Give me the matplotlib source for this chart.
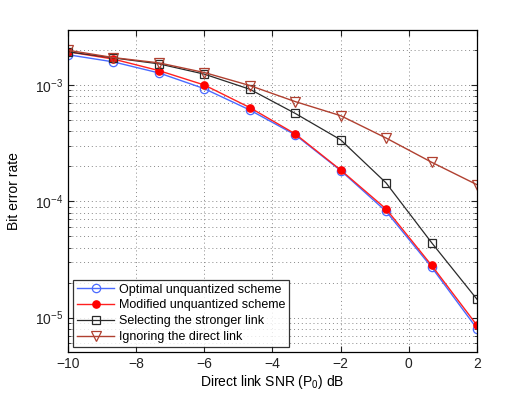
import matplotlib
matplotlib.use("Agg")
import matplotlib.pyplot as plt
import numpy as np
from matplotlib.ticker import LogLocator, NullFormatter

plt.rcParams['font.family'] = ['Liberation Sans', 'DejaVu Sans']
plt.rcParams['mathtext.fontset'] = 'custom'
plt.rcParams['mathtext.rm'] = 'Liberation Sans'
plt.rcParams['mathtext.it'] = 'Liberation Sans:italic'

snr = [-10, -8.667, -7.333, -6, -4.667, -3.333, -2, -0.667, 0.667, 2]
optimal = [1.82e-3, 1.58e-3, 1.27e-3, 9.3e-4, 6.1e-4, 3.73e-4, 1.84e-4, 8.2e-5, 2.72e-5, 8.05e-6]
modified = [1.93e-3, 1.67e-3, 1.33e-3, 1.0e-3, 6.4e-4, 3.8e-4, 1.86e-4, 8.6e-5, 2.82e-5, 8.6e-6]
selecting = [1.93e-3, 1.71e-3, 1.52e-3, 1.24e-3, 9.2e-4, 5.7e-4, 3.38e-4, 1.44e-4, 4.42e-5, 1.44e-5]
ignoring = [1.99e-3, 1.72e-3, 1.55e-3, 1.28e-3, 9.9e-4, 7.2e-4, 5.45e-4, 3.5e-4, 2.17e-4, 1.39e-4]
labels = ["Optimal unquantized scheme", "Modified unquantized scheme",
          "Selecting the stronger link", "Ignoring the direct link"]
xticks = [-10, -8, -6, -4, -2, 0, 2]

fig = plt.figure(figsize=(5.26, 3.96), dpi=100)
ax = fig.add_axes([0.1293, 0.1119, 0.7775, 0.8136])

ax.plot(snr, optimal, color='#4a6aff', lw=1.0, marker='o', ms=6, mfc='none', mec='#4a6aff', mew=0.9, label=labels[0])
ax.plot(snr, modified, color='#ff2020', lw=1.0, marker='o', ms=5.2, mfc='#ff0000', mec='#ff0000', label=labels[1])
ax.plot(snr, selecting, color='#2a2a2a', lw=0.9, marker='s', ms=5.2, mfc='none', mec='#2a2a2a', mew=0.9, label=labels[2])
ax.plot(snr, ignoring, color='#b04030', lw=1.0, marker='v', ms=7, mfc='none', mec='#b04030', mew=0.9, label=labels[3])

ax.set_yscale('log')
ax.set_xlim(-10, 2)
ax.set_ylim(5.1e-6, 3.0e-3)
ax.set_xticks(xticks)
ax.set_xticklabels([f"\u2212{abs(t)}" if t < 0 else str(t) for t in xticks])
ax.yaxis.set_major_locator(LogLocator(base=10, numticks=10))
ax.yaxis.set_minor_locator(LogLocator(base=10, subs=np.arange(2, 10), numticks=20))
ax.yaxis.set_minor_formatter(NullFormatter())

ax.tick_params(which='both', direction='in', top=True, right=True, labelsize=10, colors='#222222')
ax.tick_params(which='major', length=4)
ax.tick_params(which='minor', length=2)
ax.grid(True, which='major', axis='both', color='#888888', ls=(0, (1, 3)), lw=0.7)
ax.grid(True, which='minor', axis='y', color='#888888', ls=(0, (1, 3)), lw=0.7)
for s in ax.spines.values():
    s.set_linewidth(0.9)

ax.set_xlabel("Direct link SNR (P$_0$) dB", fontsize=10, labelpad=2)
ax.set_ylabel("Bit error rate", fontsize=10, labelpad=10)

leg = ax.legend(loc='lower left', fontsize=9, frameon=True, fancybox=False,
                edgecolor='black', borderpad=0.3, labelspacing=0.3,
                handlelength=3.0, handletextpad=0.4, borderaxespad=0.4)
leg.get_frame().set_linewidth(0.9)

fig.savefig("out.png", dpi=100)
